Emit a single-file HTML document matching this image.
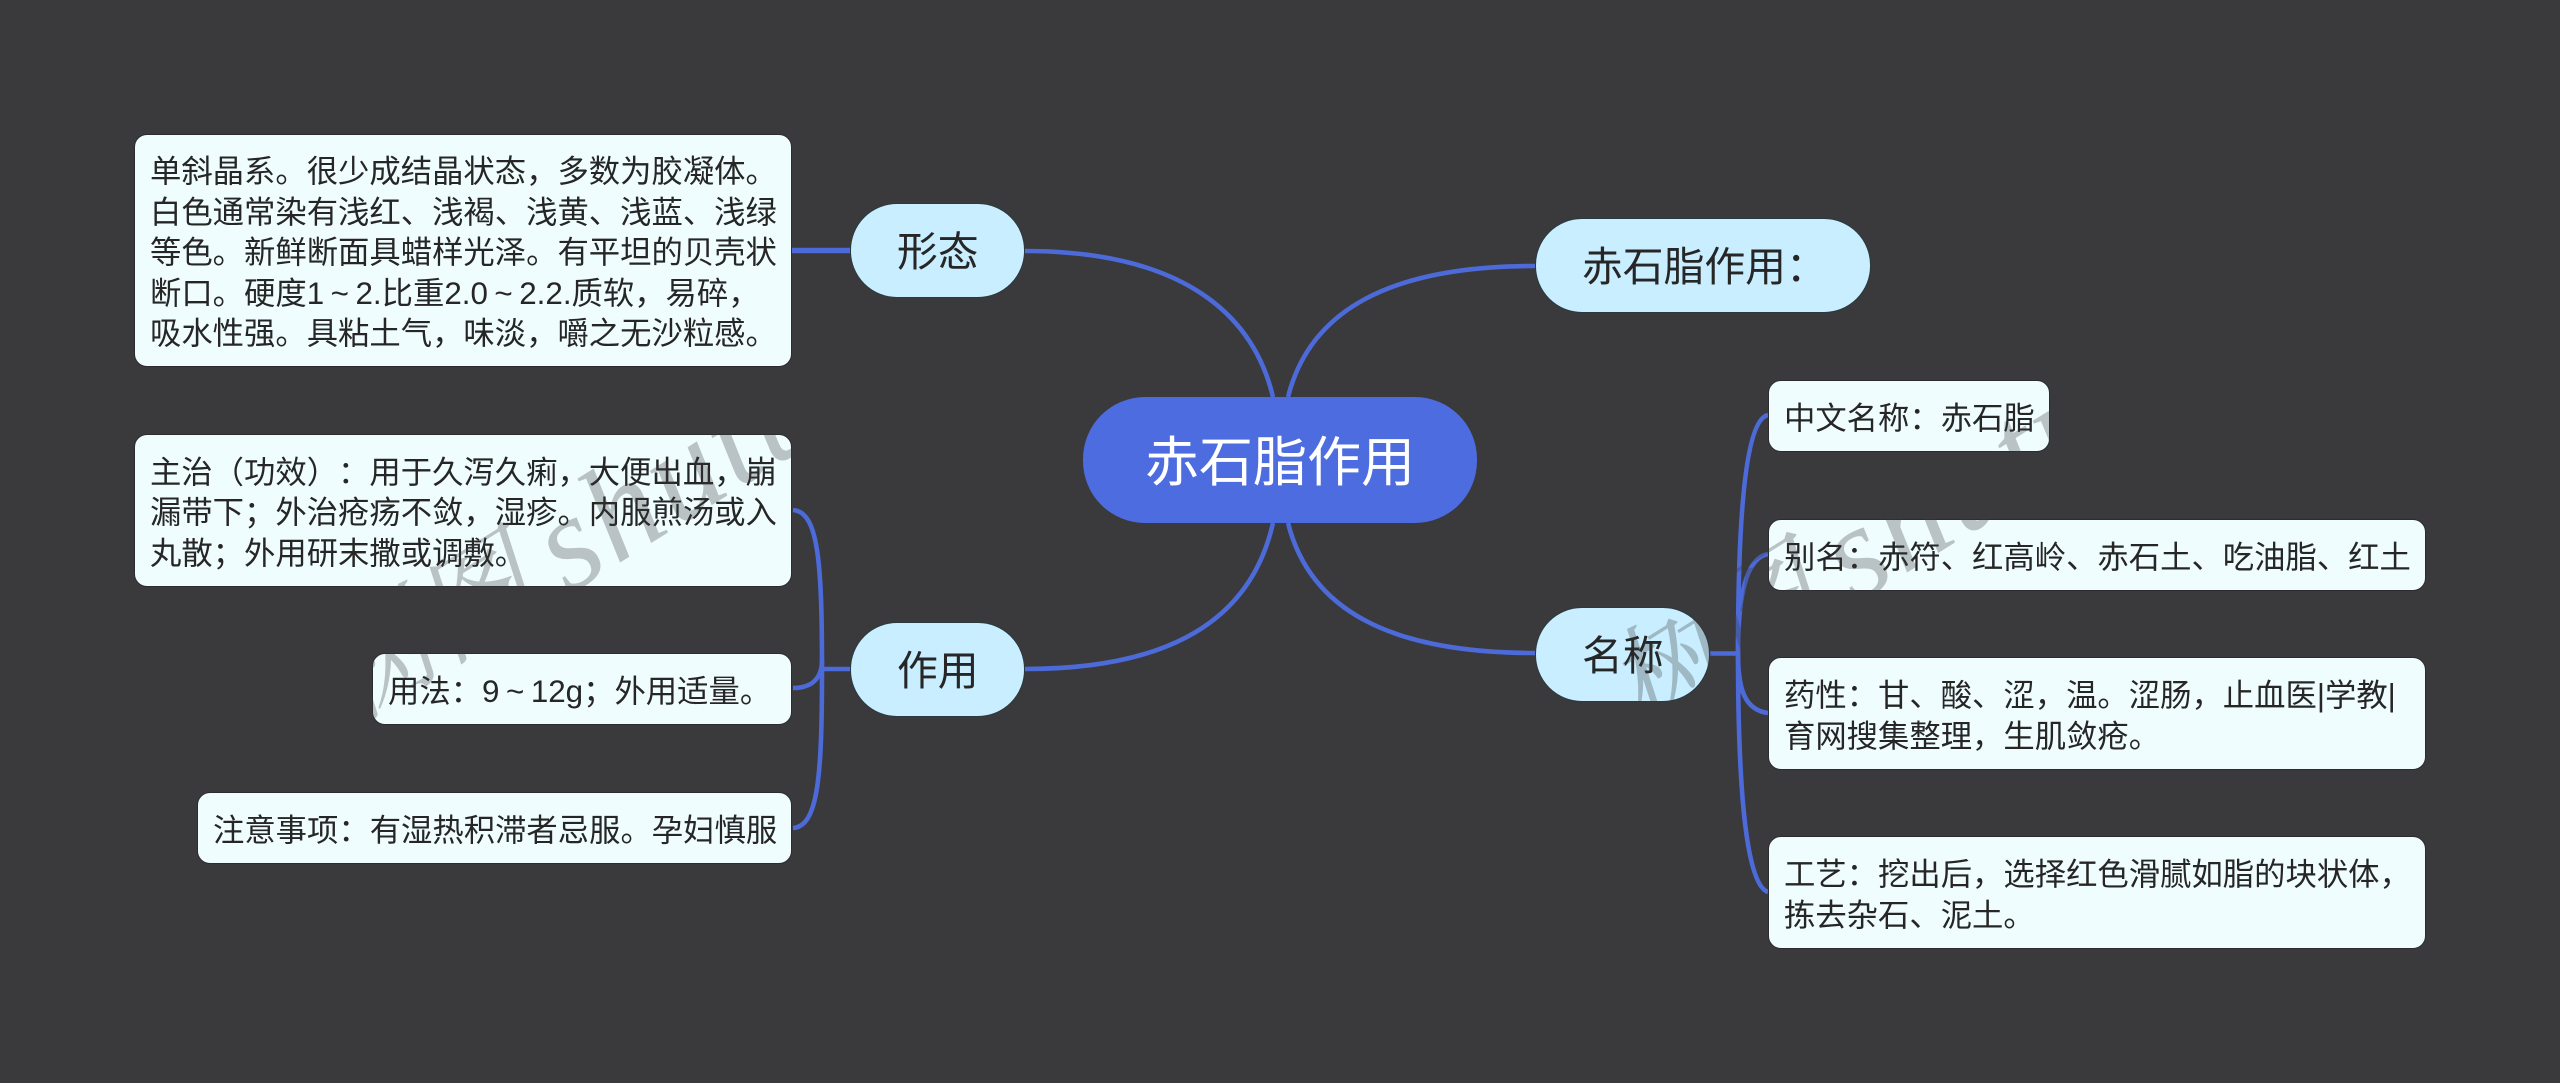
<!DOCTYPE html>
<html lang="zh">
<head>
<meta charset="utf-8">
<title>赤石脂作用</title>
<style>
html,body{margin:0;padding:0;width:2560px;height:1083px;overflow:hidden;background:#3a393b}
body{position:relative;font-family:"Liberation Sans","Noto Sans CJK SC",sans-serif;text-spacing-trim:space-all;font-kerning:none}
svg{position:absolute;left:0;top:0}
.n{position:absolute;box-sizing:border-box;display:flex;align-items:center;white-space:nowrap}
.leaf{background:#f0fdff;border:1px solid #2c2c2e;border-radius:13px;color:#262626;font-size:31.35px;line-height:40.6px;padding:6px 0 0 15px}
.topic{background:#c9eeff;border:1px solid #2a3a3f;border-radius:47px;color:#262626;font-size:40.8px;justify-content:flex-start;padding:0 0 4px 46px}
.root{background:#4c6ce0;border-radius:62px;color:#fff;font-size:54px;justify-content:center;padding-bottom:6px}
.t{display:inline-block;width:31.35px;text-align:center}
</style>
</head>
<body>
<svg width="2560" height="1083" viewBox="0 0 2560 1083" fill="none" stroke="#4c6ad8" stroke-width="4.6">
<path d="M1273 397C1251 305 1170 251 1025 251"/>
<path d="M1288 397C1310 310 1390 266 1535 266"/>
<path d="M1273 523C1251 620 1170 669 1025 669"/>
<path d="M1288 523C1310 610 1390 653 1535 653"/>
<path d="M792 250.500H851" stroke-width="5.500"/>
<path d="M851 669H822"/>
<path d="M822 669C822 560 818 512 793 510"/>
<path d="M822 660C822 680 810 688 793 688"/>
<path d="M822 669C822 778 818 826 793 828"/>
<path d="M1710 653.500H1738"/>
<path d="M1738 653C1738 520 1745 420 1768 415"/>
<path d="M1738 653C1738 600 1745 558 1768 554"/>
<path d="M1738 653C1738 690 1745 710 1768 713"/>
<path d="M1738 653C1738 780 1745 885 1768 892"/>
</svg>

<div class="n root" style="left:1083px;top:397px;width:394px;height:126px">赤石脂作用</div>

<div class="n topic" style="left:850px;top:203px;width:175px;height:95px">形态</div>
<div class="n topic" style="left:850px;top:622px;width:175px;height:95px">作用</div>
<div class="n topic" style="left:1535px;top:218px;width:336px;height:95px">赤石脂作用：</div>
<div class="n topic" style="left:1535px;top:607px;width:175px;height:95px">名称</div>

<div class="n leaf" style="left:134px;top:134px;width:658px;height:233px"><div>单斜晶系。很少成结晶状态，多数为胶凝体。<br>白色通常染有浅红、浅褐、浅黄、浅蓝、浅绿<br>等色。新鲜断面具蜡样光泽。有平坦的贝壳状<br>断口。硬度1<span class="t">~</span>2.比重2.0<span class="t">~</span>2.2.质软，易碎，<br>吸水性强。具粘土气，味淡，嚼之无沙粒感。</div></div>
<div class="n leaf" style="left:134px;top:434px;width:658px;height:153px"><div>主治（功效）：用于久泻久痢，大便出血，崩<br>漏带下；外治疮疡不敛，湿疹。内服煎汤或入<br>丸散；外用研末撒或调敷。</div></div>
<div class="n leaf" style="left:372px;top:653px;width:420px;height:72px"><div>用法：9<span class="t">~</span>12g；外用适量。</div></div>
<div class="n leaf" style="left:197px;top:792px;width:595px;height:72px"><div>注意事项：有湿热积滞者忌服。孕妇慎服</div></div>

<div class="n leaf" style="left:1768px;top:380px;width:282px;height:72px"><div>中文名称：赤石脂</div></div>
<div class="n leaf" style="left:1768px;top:519px;width:658px;height:72px"><div>别名：赤符、红高岭、赤石土、吃油脂、红土</div></div>
<div class="n leaf" style="left:1768px;top:657px;width:658px;height:113px"><div>药性：甘、酸、涩，温。涩肠，止血医|学教|<br>育网搜集整理，生肌敛疮。</div></div>
<div class="n leaf" style="left:1768px;top:836px;width:658px;height:113px"><div>工艺：挖出后，选择红色滑腻如脂的块状体，<br>拣去杂石、泥土。</div></div>

<svg width="2560" height="1083" viewBox="0 0 2560 1083" style="pointer-events:none">
<g fill="#3c3c3c" fill-opacity="0.3" font-style="italic">
<g font-family="'Noto Serif CJK SC',serif" font-size="112">
<text transform="translate(353,722) rotate(-32)">树图</text>
<text transform="translate(1640,732) rotate(-32)">树图</text>
</g>
<g font-family="'Liberation Serif',serif" font-size="135" letter-spacing="4">
<text transform="translate(568,595) rotate(-32)">shutu</text>
<text transform="translate(1855,605) rotate(-32)">shutu</text>
</g>
</g>
</svg>
</body>
</html>
